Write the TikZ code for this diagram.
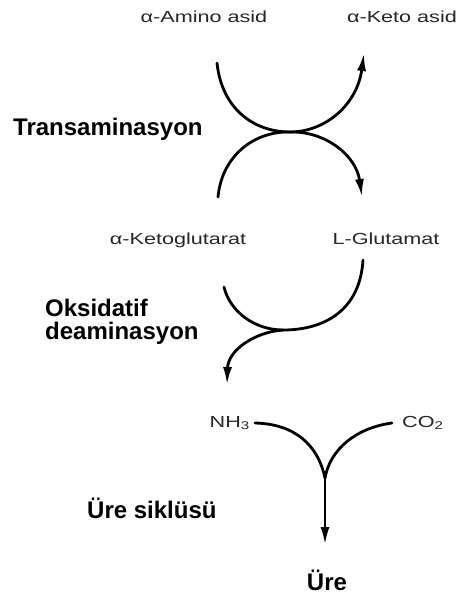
\documentclass[tikz,border=0pt]{standalone}
\usepackage{fontspec}
\setmainfont{Liberation Sans}
\newfontfamily\smallfont[FakeStretch=1.35]{Liberation Sans}
\usetikzlibrary{arrows.meta}
\begin{document}
\begin{tikzpicture}[x=1pt,y=-1pt,
  biglabel/.style={font=\bfseries\fontsize{24}{23}\selectfont,inner sep=0pt,align=left},
  smalllabel/.style={font=\smallfont\fontsize{16}{18}\selectfont,inner sep=0pt,text=black!85},
  flow/.style={line width=2.8pt,line cap=round},
  tip/.style={-{Latex[length=18pt,width=9pt]}}]
\useasboundingbox (0,0) rectangle (462,598);
% labels
\node[smalllabel,anchor=base] (aa) at (204,22) {α-Amino asid};
\node[smalllabel,anchor=base] (ka) at (402,22) {α-Keto asid};
\node[smalllabel,anchor=base] (kg) at (178,244) {α-Ketoglutarat};
\node[smalllabel,anchor=base] (lg) at (386,244) {L-Glutamat};
\node[biglabel,anchor=base west] (tr) at (13,135) {Transaminasyon};
\node[biglabel,anchor=north west] (ox) at (45,299) {Oksidatif\\deaminasyon};
\node[biglabel,anchor=base west] (us) at (87,518) {Üre siklüsü};
\node[smalllabel,anchor=east] (nh) at (250,423) {NH\textsubscript{3}};
\node[smalllabel,anchor=west] (co) at (402,423) {CO\textsubscript{2}};
\node[biglabel,anchor=base] (ure) at (327,590) {Üre};
% points
\coordinate (a1) at (217,63);
\coordinate (k1) at (364,53);
\coordinate (g1) at (218,197);
\coordinate (l1) at (362,197);
\coordinate (tx) at (290,132);
\coordinate (o1) at (363,260);
\coordinate (ob) at (283,330);
\coordinate (o2) at (224,287);
\coordinate (nt) at (227,385);
\coordinate (v) at (325,478);
% transamination
\draw[flow,tip] (a1) .. controls (222,110) and (255,132) .. (tx)
  .. controls (325,132) and (357,105) .. (k1);
\draw[flow,tip] (g1) .. controls (222,155) and (255,131) .. (tx)
  .. controls (325,131) and (356,155) .. (l1);
% oxidative deamination
\draw[flow] (o1) .. controls (360,310) and (325,330) .. (ob)
  .. controls (255,330) and (230,312) .. (o2);
\draw[flow,tip] (ob) .. controls (255,332) and (228,350) .. (nt);
% urea cycle
\draw[flow] ([xshift=5pt]nh.east) .. controls (295,424) and (318,445) .. (v);
\draw[flow] ([xshift=-10pt]co.west) .. controls (355,428) and (330,450) .. (v);
\draw[flow,tip] (v) -- (325,545);
\end{tikzpicture}
\end{document}
